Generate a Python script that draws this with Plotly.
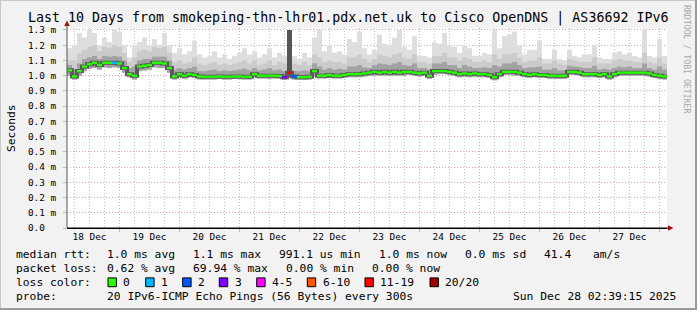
import plotly.graph_objects as go
import pandas as pd

# ---------------- data ----------------
period_start = "2025-12-18 03:00"
bin_hours = 2

median_ms = [
    1.035, 0.995, 1.030, 1.060, 1.075, 1.085, 1.070, 1.085, 1.085, 1.085,
    1.080, 1.050, 1.010, 1.000, 1.060, 1.065, 1.070, 1.085, 1.085, 1.080,
    1.050, 0.995, 1.010, 1.000, 1.010, 1.005, 0.995, 0.993, 0.993, 0.993,
    0.995, 0.993, 0.993, 0.995, 0.995, 0.993, 0.993, 1.010, 1.000, 1.000,
    1.000, 1.000, 0.998, 0.990, 1.020, 0.995, 0.990, 0.990, 0.993, 1.030,
    1.000, 1.000, 1.005, 1.000, 1.000, 1.005, 1.010, 1.010, 1.010, 1.015,
    1.020, 1.025, 1.020, 1.025, 1.020, 1.025, 1.020, 1.025, 1.025, 1.020,
    1.015, 1.020, 1.000, 1.030, 1.030, 1.030, 1.025, 1.020, 1.010, 1.015,
    1.010, 1.015, 1.010, 1.010, 1.005, 0.990, 1.010, 1.025, 1.025, 1.025,
    1.020, 1.010, 1.005, 1.010, 1.005, 1.005, 1.000, 1.000, 0.998, 1.000,
    1.025, 1.025, 1.020, 1.010, 1.010, 1.010, 1.005, 1.010, 0.995, 1.010,
    1.020, 1.020, 1.020, 1.020, 1.020, 1.020, 1.015, 1.005, 1.000, 0.995,
]
smoke_min_ms = [
    1.000, 0.975, 1.000, 1.030, 1.045, 1.050, 1.040, 1.055, 1.050, 1.055,
    1.050, 1.020, 0.990, 0.975, 1.030, 1.035, 1.040, 1.055, 1.050, 1.050,
    1.020, 0.975, 0.990, 0.980, 0.990, 0.985, 0.975, 0.975, 0.975, 0.975,
    0.978, 0.975, 0.975, 0.978, 0.977, 0.975, 0.975, 0.990, 0.982, 0.982,
    0.980, 0.982, 0.980, 0.972, 0.990, 0.975, 0.972, 0.972, 0.975, 1.000,
    0.982, 0.982, 0.985, 0.982, 0.982, 0.985, 0.990, 0.990, 0.990, 0.995,
    1.000, 1.000, 1.000, 1.000, 1.000, 1.000, 1.000, 1.000, 1.005, 1.000,
    0.995, 1.000, 0.980, 1.005, 1.010, 1.010, 1.005, 1.000, 0.990, 0.995,
    0.990, 0.995, 0.990, 0.990, 0.985, 0.970, 0.990, 1.005, 1.005, 1.000,
    1.000, 0.990, 0.985, 0.990, 0.985, 0.985, 0.980, 0.980, 0.978, 0.980,
    1.005, 1.005, 1.000, 0.990, 0.990, 0.990, 0.985, 0.990, 0.975, 0.990,
    1.000, 1.000, 1.000, 1.000, 1.000, 1.000, 0.995, 0.985, 0.980, 0.975,
]
smoke_p75_ms = [
    1.070, 1.040, 1.080, 1.110, 1.120, 1.130, 1.110, 1.130, 1.125, 1.130,
    1.125, 1.100, 1.050, 1.060, 1.100, 1.110, 1.110, 1.125, 1.125, 1.125,
    1.100, 1.040, 1.050, 1.040, 1.050, 1.060, 1.030, 1.030, 1.035, 1.040,
    1.030, 1.035, 1.030, 1.035, 1.040, 1.045, 1.035, 1.050, 1.035, 1.040,
    1.050, 1.035, 1.040, 1.030, 1.300, 1.030, 1.030, 1.035, 1.030, 1.080,
    1.060, 1.040, 1.050, 1.040, 1.045, 1.040, 1.060, 1.060, 1.070, 1.055,
    1.050, 1.070, 1.080, 1.075, 1.070, 1.080, 1.090, 1.070, 1.065, 1.080,
    1.050, 1.050, 1.040, 1.080, 1.080, 1.090, 1.070, 1.070, 1.050, 1.070,
    1.060, 1.050, 1.050, 1.055, 1.050, 1.070, 1.060, 1.080, 1.080, 1.090,
    1.070, 1.050, 1.055, 1.055, 1.060, 1.040, 1.040, 1.050, 1.035, 1.035,
    1.065, 1.060, 1.055, 1.050, 1.050, 1.065, 1.040, 1.045, 1.040, 1.050,
    1.060, 1.055, 1.060, 1.050, 1.050, 1.080, 1.050, 1.040, 1.060, 1.040,
]
smoke_p90_ms = [
    1.100, 1.100, 1.150, 1.170, 1.190, 1.200, 1.160, 1.190, 1.180, 1.200,
    1.190, 1.150, 1.090, 1.120, 1.160, 1.170, 1.160, 1.190, 1.180, 1.190,
    1.150, 1.090, 1.100, 1.080, 1.090, 1.120, 1.080, 1.070, 1.080, 1.090,
    1.070, 1.080, 1.070, 1.080, 1.090, 1.100, 1.080, 1.100, 1.070, 1.080,
    1.100, 1.070, 1.090, 1.080, 1.300, 1.080, 1.070, 1.090, 1.070, 1.140,
    1.120, 1.090, 1.100, 1.090, 1.090, 1.080, 1.120, 1.120, 1.140, 1.110,
    1.090, 1.110, 1.140, 1.130, 1.120, 1.140, 1.150, 1.120, 1.110, 1.140,
    1.090, 1.090, 1.080, 1.130, 1.130, 1.150, 1.120, 1.120, 1.100, 1.120,
    1.110, 1.090, 1.090, 1.100, 1.090, 1.140, 1.110, 1.140, 1.140, 1.150,
    1.120, 1.090, 1.100, 1.100, 1.120, 1.080, 1.080, 1.100, 1.080, 1.070,
    1.110, 1.100, 1.090, 1.090, 1.090, 1.120, 1.080, 1.080, 1.080, 1.100,
    1.110, 1.100, 1.100, 1.090, 1.090, 1.150, 1.090, 1.080, 1.120, 1.080,
]
smoke_max_ms = [
    1.180, 1.200, 1.280, 1.250, 1.300, 1.280, 1.200, 1.250, 1.220, 1.300,
    1.290, 1.200, 1.120, 1.200, 1.220, 1.250, 1.200, 1.240, 1.200, 1.280,
    1.200, 1.150, 1.180, 1.140, 1.160, 1.230, 1.140, 1.120, 1.130, 1.160,
    1.120, 1.140, 1.110, 1.130, 1.150, 1.180, 1.140, 1.160, 1.120, 1.140,
    1.180, 1.120, 1.150, 1.130, 1.300, 1.130, 1.110, 1.150, 1.120, 1.250,
    1.300, 1.160, 1.200, 1.150, 1.160, 1.140, 1.240, 1.220, 1.290, 1.180,
    1.140, 1.170, 1.270, 1.210, 1.200, 1.250, 1.300, 1.190, 1.170, 1.260,
    1.130, 1.130, 1.120, 1.220, 1.210, 1.280, 1.200, 1.190, 1.150, 1.200,
    1.180, 1.130, 1.130, 1.150, 1.140, 1.300, 1.180, 1.260, 1.270, 1.290,
    1.200, 1.140, 1.170, 1.170, 1.230, 1.110, 1.110, 1.170, 1.110, 1.100,
    1.170, 1.130, 1.120, 1.140, 1.140, 1.200, 1.120, 1.110, 1.110, 1.150,
    1.160, 1.140, 1.150, 1.130, 1.120, 1.300, 1.130, 1.120, 1.240, 1.130,
]
lost_pings = [
    0, 0, 0, 0, 0, 0, 0, 0, 0, 1,
    0, 0, 0, 0, 0, 0, 0, 0, 0, 0,
    0, 0, 0, 0, 0, 0, 0, 0, 0, 0,
    0, 0, 0, 0, 0, 0, 0, 0, 0, 0,
    0, 0, 0, 3, 14, 2, 0, 0, 0, 0,
    0, 0, 0, 0, 0, 0, 0, 0, 0, 0,
    0, 0, 0, 0, 0, 0, 0, 0, 0, 0,
    0, 0, 0, 0, 0, 0, 0, 0, 0, 0,
    0, 0, 0, 0, 0, 0, 0, 0, 0, 0,
    0, 0, 0, 0, 0, 0, 0, 0, 0, 0,
    0, 0, 0, 0, 0, 0, 0, 0, 0, 0,
    0, 0, 0, 0, 0, 0, 0, 0, 0, 0,
]

y_tick_values = [0.0, 0.1, 0.2, 0.3, 0.4, 0.5, 0.6, 0.7, 0.8, 0.9, 1.0, 1.1, 1.2, 1.3]
y_tick_labels = ["0.0\u00a0\u00a0", "0.1 m", "0.2 m", "0.3 m", "0.4 m", "0.5 m", "0.6 m",
                 "0.7 m", "0.8 m", "0.9 m", "1.0 m", "1.1 m", "1.2 m", "1.3 m"]
day_labels = ["18 Dec", "19 Dec", "20 Dec", "21 Dec", "22 Dec",
              "23 Dec", "24 Dec", "25 Dec", "26 Dec", "27 Dec"]
day_label_times = ["2025-12-18 12:00", "2025-12-19 12:00", "2025-12-20 12:00", "2025-12-21 12:00",
                   "2025-12-22 12:00", "2025-12-23 12:00", "2025-12-24 12:00", "2025-12-25 12:00",
                   "2025-12-26 12:00", "2025-12-27 12:00"]

# (lowest lost, highest lost, legend label, colour)
loss_classes = [
    (0, 0, "0", "#26ff00"), (1, 1, "1", "#00b8ff"), (2, 2, "2", "#0059ff"),
    (3, 3, "3", "#7e00ff"), (4, 5, "4-5", "#ff00ff"), (6, 10, "6-10", "#ff5500"),
    (11, 19, "11-19", "#ff0000"), (20, 20, "20/20", "#a00000"),
]

title_text = "Last 10 Days from smokeping-thn-lhr01.pdx.net.uk to Cisco OpenDNS | AS36692 IPv6"
stats_rtt = [("median rtt:", 16), ("1.0 ms avg", 106.7), ("1.1 ms max", 193.3), ("991.1 us min", 279.3),
             ("1.0 ms now", 379.3), ("0.0 ms sd", 465), ("41.4", 544), ("am/s", 593.3)]
stats_loss = [("packet loss:", 16), ("0.62 % avg", 106.7), ("69.94 % max", 192.7),
              ("0.00 % min", 286), ("0.00 % now", 372.3)]
probe_text = "20 IPv6-ICMP Echo Pings (56 Bytes) every 300s"
stamp_text = "Sun Dec 28 02:39:15 2025"

# ---------------- layout geometry (pixels) ----------------
W, H = 697, 310
PL, PR, PT, PB = 67, 667, 28, 228
MONO = "DejaVu Sans Mono"


def px(x, y):
    return (x - PL) / (PR - PL), (PB - y) / (PB - PT)


def loss_class_index(n_lost):
    for i, (lo, hi, _, c) in enumerate(loss_classes):
        if lo <= n_lost <= hi:
            return i
    return len(loss_classes) - 1


n = len(median_ms)
bin_ms = bin_hours * 3600 * 1000
starts = pd.date_range(period_start, periods=n + 1, freq=f"{bin_hours}h")
centers = starts[:-1] + pd.Timedelta(hours=bin_hours / 2)

heavy = [l >= 11 for l in lost_pings]
light_cols = ["#555555" if h else "#dedede" for h in heavy]
mid_cols = ["#555555" if h else "#cbcbcb" for h in heavy]
dark_cols = ["#555555" if h else "#a2a2a2" for h in heavy]


def band(lo, hi, cols):
    return go.Bar(x=centers, base=lo, y=[b - a for a, b in zip(lo, hi)], width=bin_ms,
                  marker=dict(color=cols, line=dict(width=0)), hoverinfo="skip", showlegend=False)


fig = go.Figure()
fig.add_trace(band(smoke_min_ms, smoke_max_ms, light_cols))
fig.add_trace(band(smoke_min_ms, smoke_p90_ms, mid_cols))
fig.add_trace(band(smoke_min_ms, smoke_p75_ms, dark_cols))
# darkest smoke hugging the median (also gives the dark step risers)
fig.add_trace(go.Scatter(x=starts, y=median_ms + [median_ms[-1]], mode="lines",
                         line=dict(shape="hv", width=4, color="#5a5a5a"),
                         hoverinfo="skip", showlegend=False))
# median: horizontal step per bin, coloured by loss class
for ci, (lo, hi, lab, col) in enumerate(loss_classes):
    xs, ys = [], []
    for i in range(n):
        if loss_class_index(lost_pings[i]) == ci:
            xs += [starts[i], starts[i + 1], None]
            ys += [median_ms[i], median_ms[i], None]
    if xs:
        fig.add_trace(go.Scatter(x=xs, y=ys, mode="lines", line=dict(width=2.4, color=col),
                                 connectgaps=False, hoverinfo="skip", showlegend=False))
# carrier for the label axis
fig.add_trace(go.Scatter(x=[starts[0], starts[-1]], y=[None, None], xaxis="x2",
                         mode="lines", hoverinfo="skip", showlegend=False))

midnights = list(pd.date_range("2025-12-19", "2025-12-28", freq="D"))
six_hourly = [t for t in pd.date_range("2025-12-18 06:00", "2025-12-28 00:00", freq="6h") if t.hour != 0]

annotations = []


def text(x, y, s, size=11.3, color="#000000", xanchor="left", angle=0):
    ax, ay = px(x, y)
    annotations.append(dict(x=ax, y=ay, xref="paper", yref="paper", text=s, showarrow=False,
                            xanchor=xanchor, yanchor="middle", textangle=angle, borderpad=0,
                            borderwidth=0, font=dict(family=MONO, size=size, color=color)))


text(348, 18.5, title_text, size=13.3, xanchor="center")
text(11, 128, "Seconds", size=11.3, xanchor="center", angle=-90)
text(687, 59, "RRDTOOL / TOBI OETIKER", size=8.2, color="#a8a8a8", xanchor="center", angle=90)
for s, x in stats_rtt:
    text(x, 254.3, s)
for s, x in stats_loss:
    text(x, 268.3, s)
text(16, 282.3, "loss color:")
swatch_x = [108, 145.7, 182.7, 219.3, 256.7, 307.3, 365, 430]
shapes = []
for (lo, hi, lab, col), sx in zip(loss_classes, swatch_x):
    x0, y0 = px(sx, 286.7)
    x1, y1 = px(sx + 8.4, 277.9)
    shapes.append(dict(type="rect", xref="paper", yref="paper", x0=x0, y0=y0, x1=x1, y1=y1,
                       fillcolor=col, line=dict(color="#000000", width=1)))
    text(sx + 15.3, 282.3, lab)
text(16, 296, "probe:")
text(106.7, 296, probe_text)
text(513.3, 296, stamp_text)


# axis extensions and arrows
def line_px(x0, y0, x1, y1, color, width=1):
    a, b = px(x0, y0)
    c, d = px(x1, y1)
    shapes.append(dict(type="line", xref="paper", yref="paper", x0=a, y0=b, x1=c, y1=d,
                       line=dict(color=color, width=width)))


def tri(points, color):
    pts = [px(x, y) for x, y in points]
    path = "M " + " L ".join(f"{x},{y}" for x, y in pts) + " Z"
    shapes.append(dict(type="path", xref="paper", yref="paper", path=path,
                       fillcolor=color, line=dict(width=0)))


line_px(PL, PB, PL, 25, "#555555")
tri([(64.2, 26), (69.8, 26), (67, 20.5)], "#9c1010")
line_px(PL, PB, 669, PB, "#000000")
tri([(668, 225.2), (668, 230.8), (673.5, 228)], "#9c1010")
# frame
line_px(0, 0.5, W, 0.5, "#c8c8c8", 1)
line_px(0.5, 0, 0.5, H, "#c8c8c8", 1)
line_px(W - 1, 0, W - 1, H, "#9a9a9a", 2)
line_px(0, H - 1, W, H - 1, "#9a9a9a", 2)

fig.update_layout(
    width=W, height=H,
    margin=dict(l=PL, r=W - PR, t=PT, b=H - PB, pad=0),
    paper_bgcolor="#f2f2f2", plot_bgcolor="#ffffff",
    barmode="overlay", showlegend=False,
    annotations=annotations, shapes=shapes,
    xaxis=dict(type="date", range=[starts[0], starts[-1]], tickmode="array", tickvals=midnights,
               showticklabels=False, showgrid=True, gridcolor="#eea0a0", griddash="1px,2px", gridwidth=1,
               ticks="outside", ticklen=3, tickcolor="#eea0a0", showline=True, linecolor="#000000",
               zeroline=False, fixedrange=True,
               minor=dict(tickmode="array", tickvals=six_hourly, showgrid=True, gridcolor="#c4c4c4",
                          griddash="1px,2px", gridwidth=1, ticks="")),
    xaxis2=dict(type="date", overlaying="x", matches="x", anchor="y", side="bottom",
                tickmode="array", tickvals=day_label_times, ticktext=day_labels, showgrid=False,
                ticks="", showline=False, zeroline=False, ticklabelstandoff=2,
                tickfont=dict(family=MONO, size=9.4, color="#000000")),
    yaxis=dict(range=[0, 1.313], tickmode="array", tickvals=y_tick_values, ticktext=y_tick_labels,
               showgrid=True, gridcolor="#eea0a0", griddash="1px,2px", gridwidth=1,
               ticks="outside", ticklen=3, tickcolor="#bbbbbb", showline=False, zeroline=False,
               ticklabelstandoff=5, tickfont=dict(family=MONO, size=9.4, color="#000000")),
)

fig.write_html("out.html")
